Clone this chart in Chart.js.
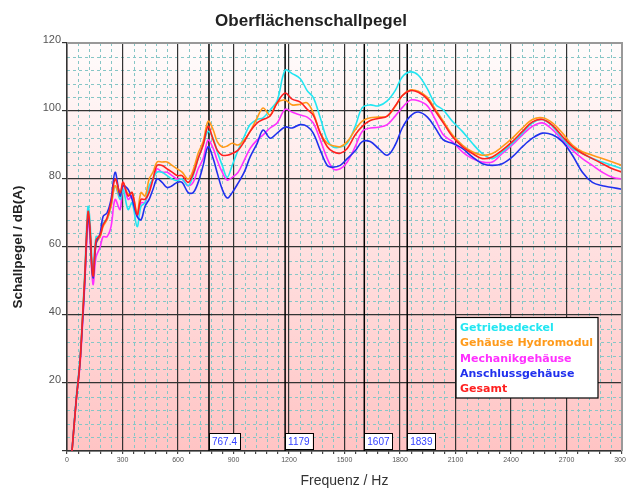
<!DOCTYPE html>
<html>
<head>
<meta charset="utf-8">
<script src="https://cdn.jsdelivr.net/npm/chart.js@4.4.0/dist/chart.umd.min.js"></script>
<style>
  html, body { margin: 0; padding: 0; background: #fff; }
</style>
</head>
<body>
<canvas id="myChart" width="626" height="490"></canvas>
<script>
// Frequenzpunkte (Hz), gemeinsam fuer alle Kurven
const freq = [
    27, 50, 70, 85, 97, 108, 115, 125, 135, 142, 157,
    179, 195, 216, 238, 260, 287, 303, 330, 352, 379, 400,
    422, 444, 465, 487, 514, 541, 568, 595, 622, 655, 682,
    709, 736, 763, 790, 812, 839, 866, 893, 925, 958, 990,
    1028, 1060, 1098, 1136, 1179, 1217, 1261, 1298, 1331, 1369, 1407,
    1439, 1477, 1515, 1558, 1596, 1639, 1683, 1731, 1774, 1812, 1856,
    1899, 1948, 1991, 2034, 2083, 2137, 2191, 2245, 2299, 2353, 2407,
    2462, 2516, 2570, 2624, 2678, 2732, 2786, 2840, 2894, 2948, 3000
];

const getriebedeckel = [
    0, 16, 27, 41, 54, 68, 72, 67, 56, 53, 63,
    63, 67, 68, 72, 78, 74, 77, 71, 73, 66, 72,
    73, 78, 80, 82, 82, 81, 80, 79.5, 80, 78, 81,
    86, 90, 94, 92, 88, 84, 80.5, 84, 88.5, 92.5, 96,
    97.5, 98, 100.3, 103, 112, 111, 109.5, 106, 104, 98, 91.5,
    89.4, 89.4, 90.5, 95.5, 101, 101.8, 101.5, 103, 106, 110, 111.5,
    110.5, 106.5, 102, 100.3, 97, 94, 90.5, 87.5, 86, 88, 90.5,
    93.5, 96.5, 97.5, 95.5, 92, 89, 87.5, 86, 85, 84, 83
];

const hydromodul = [
    0, 15, 26, 40, 52, 65, 69.5, 64, 53, 51, 61,
    63, 66, 68, 72, 78, 75, 79, 75.5, 76, 70, 76,
    75, 80, 82, 85, 85, 85, 84, 83, 82, 80, 82.6,
    87.6, 91, 97, 94.5, 91, 89.4, 89.7, 90.5, 90, 91.5, 94,
    98, 100.9, 98.8, 102.4, 103.2, 101.8, 102, 102.4, 99.5, 93.5, 90.5,
    89.8, 89.5, 91, 94.5, 97, 98, 98.2, 98.5, 101.3, 104.5, 106.2,
    105.8, 104, 100.5, 97, 93, 90, 88, 87, 87.5, 89.5, 92,
    95, 97.5, 98, 96.5, 93.5, 90, 88, 87, 86, 85, 84
];

const mechanik = [
    0, 15, 25, 38, 50, 63, 68, 62, 52, 49, 57,
    60, 63, 63, 66, 74, 71, 79, 74, 75, 69, 73,
    73, 77, 80, 83, 82, 82, 81, 80, 80, 78, 79,
    83, 86, 91.5, 89, 85.5, 82, 79.7, 80.5, 82, 85.5, 89,
    91.5, 93, 95, 96.5, 100.5, 99.7, 98.8, 98.2, 96.5, 91.5, 86,
    83, 83, 85, 89.5, 94, 95, 95.2, 96, 98.5, 101, 103.2,
    103, 101.5, 97.5, 93, 91, 88, 86, 85, 85, 87.5, 90,
    93, 95.5, 96.5, 94.5, 91.5, 88.5, 86, 84, 82, 80.5, 80
];

const anschluss = [
    0, 15, 26, 39, 51, 65, 69, 64, 53, 51, 61,
    64, 69, 70, 74, 82, 75, 78, 77, 74, 69, 68,
    72, 74, 77, 80, 79, 77.5, 78, 79, 79, 76, 76,
    79, 84, 89.5, 86, 81.8, 77, 74.4, 76, 78.8, 82, 86.5,
    90.5, 94.4, 92, 93.5, 95.3, 95, 96, 95.5, 93.5, 88.5, 84,
    83.5, 84, 86, 88.3, 91, 91, 89, 87, 90, 95, 98.5,
    99.7, 98.2, 95, 91.5, 90.5, 89, 86.5, 84.5, 84, 84.5, 86.5,
    89.5, 92, 93.5, 93, 91, 87, 82, 79, 78, 77.5, 77
];

const gesamt = [
    0, 15, 26, 40, 52, 66, 70.5, 65, 54, 51.5, 62,
    63.5, 66.5, 68.5, 73, 80, 76, 79, 75, 76, 69.5, 74,
    74, 76, 80, 84, 84, 83, 82, 81, 81, 79, 81.5,
    86, 90, 95.5, 91.5, 88.5, 87, 87, 87.5, 88.5, 91, 94,
    96.5, 97.5, 98.5, 102.4, 105.3, 103.5, 102.6, 100.5, 98.8, 93.5, 89.5,
    88, 87.6, 89, 93, 95.5, 97.2, 97.8, 98.5, 101.5, 104.5, 106,
    105.5, 103.5, 100, 96.5, 92.5, 89.5, 87.5, 86, 86.5, 88.5, 91,
    94, 96.8, 97.5, 95.8, 92.5, 89.5, 87.5, 86, 84.5, 83, 82
];

// Markierte Frequenzen
const markerFreqs = [767.4, 1179, 1607, 1839];
const markerLabels = ['767.4', '1179', '1607', '1839'];

const xMajor = 300, xMinor = 60;
const yMajor = 20, yMinor = 4;

function toPoints(values)
{
    let pts = [];
    for (let i = 0; i < freq.length; i++)
    {
        pts.push({x: freq[i], y: values[i]});
    }
    return pts;
}

const fontFam = "'Liberation Sans', Arial, sans-serif";
Chart.defaults.font.family = fontFam;

const plotDeco = {
    id: 'plotDeco',
    beforeDraw(chart) {
        const {ctx, chartArea: a} = chart;
        const x = chart.scales.x, y = chart.scales.y;
        ctx.save();
        const g = ctx.createLinearGradient(0, a.top, 0, a.bottom);
        g.addColorStop(0, '#fffcfc');
        g.addColorStop(1, '#ffc4c4');
        ctx.fillStyle = g;
        ctx.fillRect(a.left, a.top, a.width, a.height);

        // feines Raster, gestrichelt
        ctx.strokeStyle = '#86c6c6';
        ctx.lineWidth = 1;
        ctx.setLineDash([3, 3]);
        for (let v = xMinor; v < x.max; v += xMinor)
        {
            if (v % xMajor === 0) continue;
            const px = Math.round(x.getPixelForValue(v)) + 0.5;
            ctx.beginPath();
            ctx.moveTo(px, a.top);
            ctx.lineTo(px, a.bottom);
            ctx.stroke();
        }
        for (let v = yMinor; v < y.max; v += yMinor)
        {
            if (v % yMajor === 0) continue;
            const py = Math.round(y.getPixelForValue(v)) + 0.5;
            ctx.beginPath();
            ctx.moveTo(a.left, py);
            ctx.lineTo(a.right, py);
            ctx.stroke();
        }
        ctx.restore();
    },
    beforeDatasetsDraw(chart) {
        const {ctx, chartArea: a} = chart;
        const x = chart.scales.x;
        ctx.save();
        ctx.strokeStyle = '#000';
        ctx.lineWidth = 1.5;
        for (let i = 0; i < markerFreqs.length; i++)
        {
            const px = x.getPixelForValue(markerFreqs[i]);
            ctx.beginPath();
            ctx.moveTo(px, a.top);
            ctx.lineTo(px, a.bottom);
            ctx.stroke();
        }
        ctx.restore();
    },
    afterDatasetsDraw(chart) {
        const {ctx, chartArea: a} = chart;
        const x = chart.scales.x;
        ctx.save();

        // Rahmen
        ctx.strokeStyle = '#999';
        ctx.lineWidth = 2;
        ctx.beginPath();
        ctx.moveTo(a.left, a.top);
        ctx.lineTo(a.right, a.top);
        ctx.lineTo(a.right, a.bottom);
        ctx.stroke();

        // Marker-Beschriftungen
        ctx.font = '10px ' + fontFam;
        ctx.textBaseline = 'middle';
        ctx.textAlign = 'left';
        for (let i = 0; i < markerFreqs.length; i++)
        {
            const px = x.getPixelForValue(markerFreqs[i]);
            const w = ctx.measureText(markerLabels[i]).width + 6;
            const top = a.bottom - 18;
            ctx.fillStyle = '#fff';
            ctx.fillRect(px, top, w, 16);
            ctx.strokeStyle = '#000';
            ctx.lineWidth = 1;
            ctx.strokeRect(Math.round(px) + 0.5, top + 0.5, Math.round(w), 16);
            ctx.fillStyle = '#3340ff';
            ctx.fillText(markerLabels[i], px + 3, top + 9);
        }

        // Legende
        const ds = chart.data.datasets;
        ctx.font = "bold 11px 'DejaVu Sans', sans-serif";
        let maxW = 0;
        for (let i = 0; i < ds.length; i++)
        {
            maxW = Math.max(maxW, ctx.measureText(ds[i].label).width);
        }
        const lineH = 15.3;
        const boxW = Math.max(142, maxW + 8);
        const boxH = ds.length * lineH + 4;
        const bx = a.right - 24 - boxW;
        const by = a.bottom - 53 - boxH;
        ctx.fillStyle = '#fff';
        ctx.fillRect(bx, by, boxW, boxH);
        ctx.strokeStyle = '#000';
        ctx.lineWidth = 1.2;
        ctx.strokeRect(bx, by, boxW, boxH);
        for (let i = 0; i < ds.length; i++)
        {
            ctx.fillStyle = ds[i].borderColor;
            ctx.fillText(ds[i].label, bx + 4, by + 3 + lineH * (i + 0.5));
        }
        ctx.restore();
    }
};

const ctx = document.getElementById('myChart');
const myChart = new Chart(ctx, {
    type: 'line',
    data: {
        datasets: [
            {label: 'Getriebedeckel', data: toPoints(getriebedeckel), borderColor: '#22e6f2', order: 3},
            {label: 'Gehäuse Hydromodul', data: toPoints(hydromodul), borderColor: '#ff9a1a', order: 2},
            {label: 'Mechanikgehäuse', data: toPoints(mechanik), borderColor: '#ff30ff', order: 4},
            {label: 'Anschlussgehäuse', data: toPoints(anschluss), borderColor: '#2030ee', order: 1},
            {label: 'Gesamt', data: toPoints(gesamt), borderColor: '#ff2020', order: 0}
        ]
    },
    options: {
        responsive: false,
        animation: false,
        elements: {
            point: {radius: 0},
            line: {borderWidth: 1.6, tension: 0.35, fill: false}
        },
        layout: {padding: {top: 0, right: 4, bottom: 0, left: 0}},
        plugins: {
            legend: {display: false},
            tooltip: {enabled: false},
            title: {
                display: true,
                text: 'Oberflächenschallpegel',
                color: '#222',
                font: {size: 17, weight: 'bold'},
                padding: {top: 11, bottom: 11.6}
            }
        },
        scales: {
            x: {
                type: 'linear',
                min: 0,
                max: 3000,
                afterFit: function (s) {
                    s.height = 39;
                    s.paddingLeft = 0;
                    s.paddingRight = 0;
                },
                ticks: {
                    stepSize: xMinor,
                    autoSkip: false,
                    maxTicksLimit: 100,
                    maxRotation: 0,
                    padding: 2,
                    color: '#555',
                    font: {size: 7},
                    callback: function (v) { return v % xMajor === 0 ? String(v) : ''; }
                },
                grid: {
                    color: function (c) { return c.tick && c.tick.value % xMajor === 0 ? '#333' : 'rgba(0,0,0,0)'; },
                    lineWidth: 1.2,
                    tickColor: '#444',
                    tickLength: 3
                },
                border: {color: '#333', width: 1.5},
                title: {
                    display: true,
                    text: 'Frequenz / Hz',
                    color: '#333',
                    font: {size: 14},
                    padding: {top: 0, bottom: 0}
                }
            },
            y: {
                type: 'linear',
                min: 0,
                max: 120,
                afterFit: function (s) { s.width = 67; },
                ticks: {
                    stepSize: yMinor,
                    autoSkip: false,
                    maxTicksLimit: 100,
                    padding: 1,
                    labelOffset: -3,
                    color: '#555',
                    font: {size: 11},
                    callback: function (v) { return (v % yMajor === 0 && v > 0) ? String(v) : ''; }
                },
                grid: {
                    color: function (c) { return c.tick && c.tick.value % yMajor === 0 ? '#333' : 'rgba(0,0,0,0)'; },
                    lineWidth: 1.2,
                    tickColor: function (c) { return c.tick && c.tick.value % yMajor === 0 ? '#333' : 'rgba(0,0,0,0)'; },
                    tickLength: 5
                },
                border: {color: '#333', width: 1.5},
                title: {
                    display: true,
                    text: 'Schallpegel / dB(A)',
                    color: '#222',
                    font: {size: 13.5, weight: 'bold'},
                    padding: {top: 10, bottom: 0}
                }
            }
        }
    },
    plugins: [plotDeco]
});
</script>
</body>
</html>
